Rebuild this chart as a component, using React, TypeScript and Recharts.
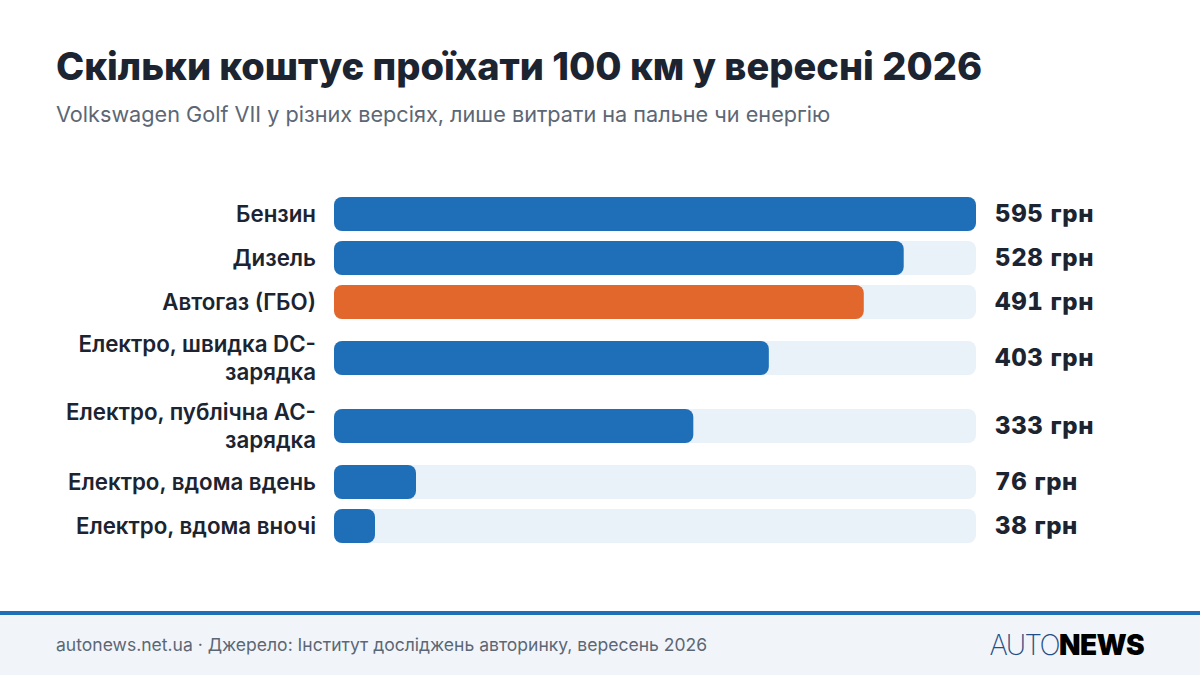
import { Bar, BarChart, XAxis, YAxis, Cell } from 'recharts';

const categories = [
  'Бензин',
  'Дизель',
  'Автогаз (ГБО)',
  'Електро, швидка DC-\nзарядка',
  'Електро, публічна AC-\nзарядка',
  'Електро, вдома вдень',
  'Електро, вдома вночі',
];
const costs = [595, 528, 491, 403, 333, 76, 38];
const highlighted = ['Автогаз (ГБО)'];
const unit = 'грн';

const FONT = 'Inter, sans-serif';
const INK = '#1b2430';
const BLUE = '#1f6fb8';
const ORANGE = '#e2672c';
const TRACK = '#e9f1f9';
const MUTED = '#5c6775';
const MAX_COST = costs[0];

function CategoryTick({ x, y, payload }: any) {
  const lines = String(payload.value).split('\n');
  const top = y - 1 - ((lines.length - 1) * 28) / 2;
  return (
    <text x={x} y={top} textAnchor="end" dominantBaseline="central" fontFamily={FONT} fontSize={22.3} fontWeight={600} fill={INK}>
      {lines.map((line, i) => (
        <tspan key={i} x={x} y={top + i * 28}>
          {line}
        </tspan>
      ))}
    </text>
  );
}

function ValueTick({ x, y, payload }: any) {
  return (
    <text x={x} y={y - 1} textAnchor="start" dominantBaseline="central" fontFamily={FONT} fontSize={24} fontWeight={800} letterSpacing={0.65} fill={INK} style={{ fontFeatureSettings: '"tnum"' }}>
      {payload.value}
    </text>
  );
}

function CostRow({ index }: { index: number }) {
  const label = categories[index];
  const row = [{ label, cost: costs[index], text: `${costs[index]} ${unit}` }];
  // band slightly taller than the bar, recharts shrinks the bar when it fills the band
  const height = label.includes('\n') ? 60 : 36;
  return (
    <BarChart width={1200} height={height} data={row} layout="vertical" barCategoryGap={0} margin={{ top: 0, right: 0, bottom: 0, left: 0 }}>
      <XAxis type="number" hide domain={[0, MAX_COST]} />
      <YAxis yAxisId="left" type="category" dataKey="label" width={334} axisLine={false} tickLine={false} tickMargin={0} tick={(p: any) => <CategoryTick {...p} x={316} />} />
      <YAxis yAxisId="right" orientation="right" type="category" dataKey="text" width={224} axisLine={false} tickLine={false} tick={(p: any) => <ValueTick {...p} x={995} />} />
      <Bar yAxisId="left" dataKey="cost" barSize={34} radius={8} background={{ fill: TRACK, radius: 8 }} isAnimationActive={false}>
        <Cell fill={highlighted.includes(label) ? ORANGE : BLUE} />
      </Bar>
    </BarChart>
  );
}

export default function App() {
  return (
    <div style={{ position: 'absolute', left: 0, top: 0, width: 1200, height: 675, background: '#fff', overflow: 'hidden', fontFamily: FONT }}>
      <div style={{ position: 'absolute', left: 56, top: 42, fontSize: 38, lineHeight: '48px', fontWeight: 800, color: INK, whiteSpace: 'nowrap' }}>
        Скільки коштує проїхати 100 км у вересні 2026
      </div>
      <div style={{ position: 'absolute', left: 56, top: 100, fontSize: 21.67, lineHeight: '28px', color: MUTED, whiteSpace: 'nowrap' }}>
        Volkswagen Golf VII у різних версіях, лише витрати на пальне чи енергію
      </div>
      <div style={{ position: 'absolute', left: 0, top: 196, display: 'flex', flexDirection: 'column', gap: 8 }}>
        {categories.map((_, i) => (
          <CostRow key={i} index={i} />
        ))}
      </div>
      <div style={{ position: 'absolute', left: 0, top: 611, width: 1200, height: 64, background: '#f1f5fa', borderTop: '4px solid #1f6fb8', boxSizing: 'border-box' }} />
      <div style={{ position: 'absolute', left: 56, top: 632, fontSize: 17.55, lineHeight: '26px', color: MUTED, whiteSpace: 'nowrap' }}>
        autonews.net.ua · Джерело: Інститут досліджень авторинку, вересень 2026
      </div>
      <div style={{ position: 'absolute', right: 56, top: 628, fontSize: 28, lineHeight: '34px', whiteSpace: 'nowrap' }}>
        <span style={{ fontWeight: 200, color: '#1f4f86', letterSpacing: -1.6 }}>AUTO</span>
        <span style={{ fontWeight: 900, color: '#000', letterSpacing: -0.6 }}>NEWS</span>
      </div>
    </div>
  );
}
